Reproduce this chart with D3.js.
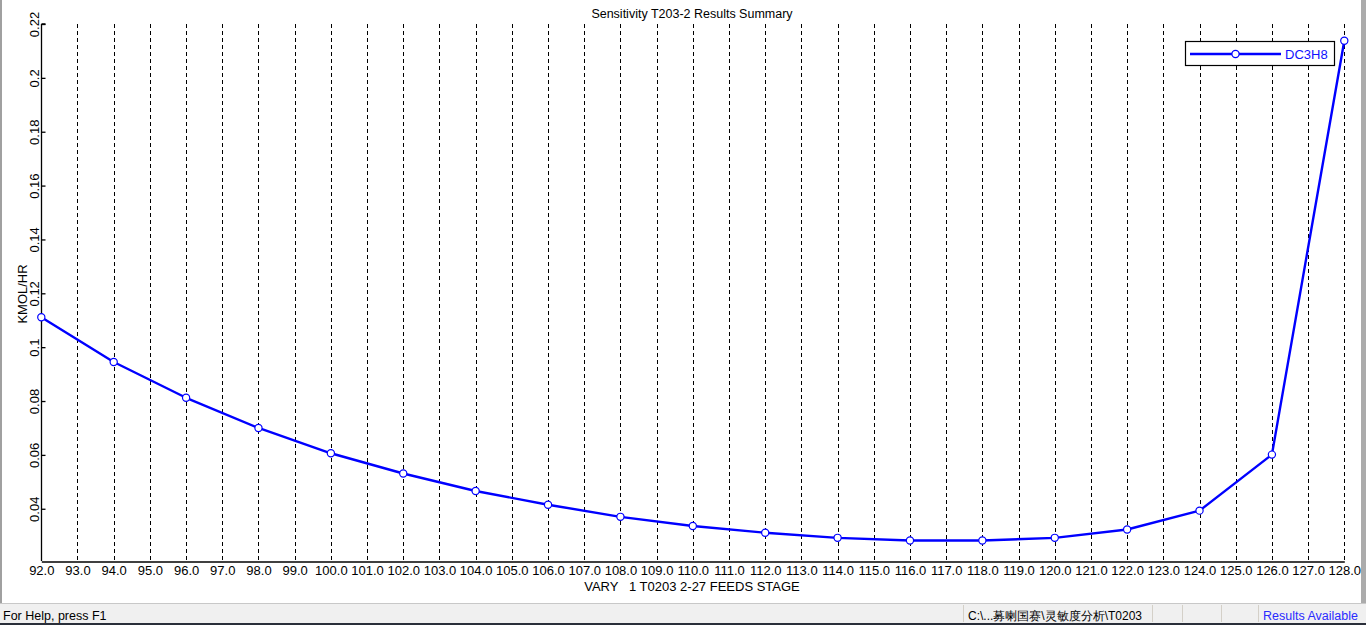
<!DOCTYPE html>
<html><head><meta charset="utf-8">
<script src="https://cdn.jsdelivr.net/npm/d3@7"></script>
<style>
html,body{margin:0;padding:0;background:#fff;overflow:hidden}
svg{display:block}
text{font-family:"Liberation Sans",Arial,sans-serif}
</style></head>
<body>
<svg id="c" width="1366" height="625"></svg>
<script>
// ---- data ----
const stages = [92,94,96,98,100,102,104,106,108,110,112,114,116,118,120,122,124,126,128];
const dc3h8 = [0.1111,0.0945,0.0812,0.0700,0.0606,0.0531,0.0466,0.0415,0.0370,0.0336,0.0311,0.0292,0.0282,0.0282,0.0292,0.0323,0.0393,0.0601,0.2138];
const xTicks = d3.range(92,129,1);
const yTicks = [0.04,0.06,0.08,0.10,0.12,0.14,0.16,0.18,0.20,0.22];
const seriesName = "DC3H8";
const chartTitle = "Sensitivity T203-2 Results Summary";
const xTitle = "VARY   1 T0203 2-27 FEEDS STAGE";
const yTitle = "KMOL/HR";
const statusTexts = ["For Help, press F1","C:\\...募喇国赛\\灵敏度分析\\T0203","Results Available"];

const svg = d3.select("#c");
const W=1366,H=625;
const x = d3.scaleLinear().domain([92,128]).range([41.3,1344.3]);
const y = d3.scaleLinear().domain([0.0206,0.22]).range([561,24]);

// window frame
svg.append("rect").attr("x",0).attr("y",0).attr("width",W).attr("height",H).attr("fill","#fff");
svg.append("rect").attr("x",0).attr("y",0).attr("width",2).attr("height",604).attr("fill","#a0a0a0");
svg.append("rect").attr("x",1361).attr("y",0).attr("width",5).attr("height",604).attr("fill","#ababab");

// grid (vertical dashed)
svg.append("g").selectAll("line").data(xTicks.slice(1)).join("line")
  .attr("x1",d=>Math.round(x(d))+0.5).attr("x2",d=>Math.round(x(d))+0.5)
  .attr("y1",y(0.22)).attr("y2",561)
  .attr("stroke","#000").attr("stroke-width",1).attr("stroke-dasharray","4,3");

// x axis
const xAxis = d3.axisBottom(x).tickValues(xTicks).tickFormat(d3.format(".1f")).tickSize(0).tickPadding(4);
const gx = svg.append("g").attr("transform","translate(0,561.5)").call(xAxis);
gx.select(".domain").attr("stroke","#000").attr("stroke-width",1.3);
gx.selectAll("text").attr("font-size",13).attr("fill","#000").attr("font-family","Liberation Sans, Arial, sans-serif");

// y axis
const yAxis = d3.axisLeft(y).tickValues(yTicks).tickFormat(d=>String(+d.toFixed(2))).tickSize(-4).tickPadding(0);
const gy = svg.append("g").attr("transform","translate(41.5,0)").call(yAxis);
gy.select(".domain").attr("stroke","#000").attr("stroke-width",1.3).attr("d",`M0,${y(0.22)}H4M0,${y(0.22)}V561`);
gy.selectAll(".tick line").attr("stroke","#000").attr("stroke-width",1.3);
gy.selectAll(".tick text").attr("font-size",13).attr("fill","#000")
  .attr("x",null).attr("dy",null)
  .attr("text-anchor","middle")
  .attr("transform","translate(-3,0) rotate(-90)")
  .attr("y",0).attr("font-family","Liberation Sans, Arial, sans-serif");

// titles
svg.append("text").attr("x",692).attr("y",18).attr("text-anchor","middle")
  .attr("font-size",12.5).attr("fill","#000").text(chartTitle);
svg.append("text").attr("x",692).attr("y",591).attr("text-anchor","middle")
  .attr("font-size",13).attr("fill","#000").style("white-space","pre").text(xTitle);
svg.append("text").attr("transform","translate(27,294) rotate(-90)").attr("text-anchor","middle")
  .attr("font-size",13).attr("fill","#000").text(yTitle);

// series
const pts = stages.map((s,i)=>[s,dc3h8[i]]);
svg.append("path").datum(pts)
  .attr("d",d3.line().x(d=>x(d[0])).y(d=>y(d[1])))
  .attr("fill","none").attr("stroke","#0000ff").attr("stroke-width",2.4).attr("stroke-linejoin","round");
svg.append("g").selectAll("circle").data(pts).join("circle")
  .attr("cx",d=>x(d[0])).attr("cy",d=>y(d[1])).attr("r",3.6)
  .attr("fill","#fff").attr("stroke","#0000ff").attr("stroke-width",1.2);

// legend
const lg = svg.append("g");
lg.append("rect").attr("x",1185.5).attr("y",41.5).attr("width",149).attr("height",24)
  .attr("fill","#fff").attr("stroke","#000").attr("stroke-width",1.2);
lg.append("line").attr("x1",1190).attr("x2",1281).attr("y1",54).attr("y2",54)
  .attr("stroke","#0000ff").attr("stroke-width",2.4);
lg.append("circle").attr("cx",1235.5).attr("cy",54).attr("r",3.6)
  .attr("fill","#fff").attr("stroke","#0000ff").attr("stroke-width",1.2);
lg.append("text").attr("x",1285).attr("y",58.5).attr("font-size",13).attr("fill","#1010ff").text(seriesName);

// status bar
const sb = svg.append("g");
sb.append("rect").attr("x",0).attr("y",603).attr("width",W).attr("height",1).attr("fill","#c8c8c8");
sb.append("rect").attr("x",0).attr("y",604).attr("width",W).attr("height",19).attr("fill","#f0f0f0");
sb.append("rect").attr("x",0).attr("y",623).attr("width",W).attr("height",2).attr("fill","#2a2f3a");
const seps=[963,1152,1182,1221,1258];
sb.selectAll("rect.sep").data(seps).join("rect").attr("class","sep")
  .attr("x",d=>d).attr("y",605).attr("width",1).attr("height",17).attr("fill","#d4d0c8");
sb.append("text").attr("x",3).attr("y",620).attr("font-size",12.5).attr("fill","#000")
  .attr("font-family","Noto Sans, sans-serif").text(statusTexts[0]);
sb.append("text").attr("x",968).attr("y",620).attr("font-size",12).attr("fill","#000")
  .attr("font-family","Noto Sans CJK SC, Noto Sans, sans-serif").text(statusTexts[1]);
sb.append("text").attr("x",1263).attr("y",620).attr("font-size",12.5).attr("fill","#2b2bff")
  .attr("font-family","Noto Sans, sans-serif").text(statusTexts[2]);
</script>
</body></html>
